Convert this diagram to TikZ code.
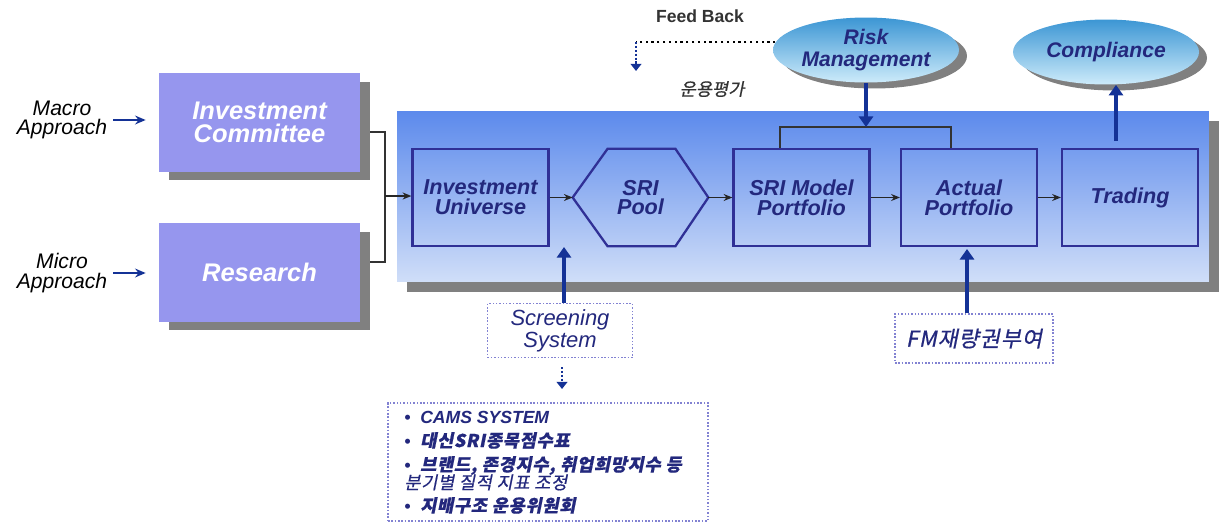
\documentclass[tikz,border=0pt]{standalone}
\usepackage{fontspec}
\setmainfont{Liberation Sans}
\newfontfamily\kr[FakeSlant=0.2,FakeBold=0.6]{Noto Sans CJK KR}
\newfontfamily\krw[FakeSlant=0.2,FakeBold=0.6,LetterSpace=4]{Noto Sans CJK KR}
\usetikzlibrary{arrows.meta,shadows,shapes.geometric,calc}
\definecolor{navy}{RGB}{35,40,125}
\definecolor{arrowblue}{RGB}{20,50,150}
\definecolor{lav}{RGB}{150,150,238}
\definecolor{panelTop}{RGB}{92,138,236}
\definecolor{panelBot}{RGB}{208,222,248}
\definecolor{shd}{RGB}{128,128,128}
\definecolor{ellTop}{RGB}{60,150,212}
\definecolor{ellBot}{RGB}{205,235,250}
\definecolor{boxline}{RGB}{48,48,150}
\definecolor{dotline}{RGB}{130,130,210}
\tikzset{
  lavbox/.style={rectangle, fill=lav, minimum width=4.02cm, minimum height=1.98cm,
    drop shadow={shadow xshift=0.2cm, shadow yshift=-0.17cm, fill=shd, opacity=1},
    font=\fontsize{14.5}{13}\selectfont\bfseries\itshape, text=white, align=center},
  flowbox/.style={rectangle, draw=boxline, line width=1.3pt, minimum width=2.72cm, minimum height=1.94cm,
    font=\fontsize{12.3}{11.3}\selectfont\bfseries\itshape, text=navy, align=center},
  ell/.style={ellipse, minimum width=3.72cm, minimum height=1.3cm, top color=ellTop, bottom color=ellBot,
    drop shadow={shadow xshift=0.16cm, shadow yshift=-0.12cm, fill=shd, opacity=1},
    font=\fontsize{12}{12.5}\selectfont\bfseries\itshape, text=navy, align=center, inner sep=0pt},
  sidetxt/.style={font=\fontsize{12}{11.3}\selectfont\itshape, text=black, align=center},
  dotbox/.style={rectangle, draw=dotline, densely dotted, line width=0.9pt, fill=white},
  thinarr/.style={draw=black!85, line width=0.8pt, -{Stealth[length=5pt,width=4pt]}},
  navyarr/.style={draw=arrowblue, line width=1.3pt, -{Stealth[length=6pt,width=5pt]}},
  thickarr/.style={draw=arrowblue, line width=2.6pt, -{Triangle[length=6pt,width=8pt]}},
  bracket/.style={draw=black!80, line width=0.8pt},
  bluedot/.style={draw=arrowblue, line width=1.2pt, densely dotted, -{Triangle[length=4pt,width=6pt]}},
  bul/.style={anchor=base west, inner sep=0pt, text=navy}
}
\begin{document}
\begin{tikzpicture}[x=0.02cm,y=-0.02cm]
\useasboundingbox (0,0) rectangle (1219,521);

% panel
\node[rectangle, minimum width=16.24cm, minimum height=3.42cm, top color=panelTop, bottom color=panelBot,
  drop shadow={shadow xshift=0.2cm, shadow yshift=-0.2cm, fill=shd, opacity=1}] (panel) at (803,196.5) {};

% left boxes
\node[lavbox] (IC) at (259.5,122.5) {Investment\\Committee};
\node[lavbox] (RS) at (259.5,272.5) {Research};
\node[sidetxt] (macro) at (62,120) {Macro\\Approach};
\node[sidetxt] (micro) at (62,273) {Micro\\Approach};
\draw[navyarr, shorten >=0.26cm] (macro.east) -- (macro.east -| IC.west);
\draw[navyarr, shorten >=0.26cm] (micro.east) -- (micro.east -| RS.west);

% flow boxes
\node[flowbox] (IU) at (480.5,197.5) {Investment\\Universe};
\node[minimum width=2.7cm, minimum height=1.94cm, inner sep=0pt,
  font=\fontsize{12.3}{11.3}\selectfont\bfseries\itshape, text=navy, align=center] (pool) at (640.5,197.5) {SRI\\Pool};
\draw[boxline, line width=1.3pt] (pool.west) -- ($(pool.north west)+(35,0)$) -- ($(pool.north east)+(-33,0)$)
  -- (pool.east) -- ($(pool.south east)+(-33,0)$) -- ($(pool.south west)+(35,0)$) -- cycle;
\node[flowbox] (SRM) at (801.5,197.5) {SRI Model\\Portfolio};
\node[flowbox] (AP) at (969,197.5) {Actual\\Portfolio};
\node[flowbox] (TR) at (1130,197.5) {Trading};

\draw[thinarr] (IU.east) -- (pool.west);
\draw[thinarr] (pool.east) -- (SRM.west);
\draw[thinarr] (SRM.east) -- (AP.west);
\draw[thinarr] (AP.east) -- (TR.west);

% left bracket
\coordinate (lbT) at (385,132);
\coordinate (lbB) at (385,262);
\coordinate (lbM) at (385,196);
\draw[bracket] ([xshift=0.2cm]IC.east |- lbT) -- (lbT) -- (lbB) -- ([xshift=0.2cm]RS.east |- lbB);
\draw[thinarr] (lbM) -- (lbM -| IU.west);

% top bracket
\coordinate (tbL) at (780,127);
\coordinate (tbR) at (951,127);
\draw[bracket] (SRM.north -| tbL) -- (tbL) -- (tbR) -- (AP.north -| tbR);

% ellipses
\node[ell] (risk) at (866,50) {Risk\\Management};
\node[ell] (comp) at (1106,52) {Compliance};
\draw[thickarr] (risk.south) -- (risk.south |- tbL);
\coordinate (trTop) at (1116,141);
\draw[thickarr] (trTop) -- (comp.south -| trTop);

% feedback
\node[font=\fontsize{10}{10}\selectfont\bfseries, text=black!80] (fb) at (700,16) {Feed Back};
\node[font=\kr\fontsize{10}{10}\selectfont, text=black!80] (eval) at (712,89) {운용평가};
\coordinate (fbL) at (636,41);
\draw[black, line width=1.3pt, dotted] (risk.175) -- (risk.175 -| fbL);
\coordinate (fbD) at (636,71);
\draw[bluedot] (risk.175 -| fbL) -- (fbD);

% screening
\node[dotbox, minimum width=2.9cm, minimum height=0.9cm, font=\fontsize{12.5}{11.3}\selectfont\itshape,
  text=navy, align=center] (scr) at (560,330.5) {Screening\\System};
\coordinate (scrTip) at (564,247);
\draw[thickarr] (scr.north -| scrTip) -- (scrTip);
\coordinate (sdTop) at (562,367);
\coordinate (sdBot) at (562,389);
\draw[bluedot] (sdTop) -- (sdBot);

% notes
\node[dotbox, minimum width=6.4cm, minimum height=2.36cm] (notes) at (548,462) {};
\node[bul, font=\fontsize{10}{10}\selectfont\bfseries\itshape] at (404,423) {\textbullet\ \ CAMS SYSTEM};
\node[bul, font=\fontsize{10}{10}\selectfont\bfseries\itshape] at (404,447) {\textbullet\ \ {\krw 대신SRI종목점수표}};
\node[bul, font=\fontsize{10}{10}\selectfont\bfseries\itshape] at (404,471) {\textbullet\ \ {\krw 브랜드, 존경지수, 취업희망지수 등}};
\node[bul, font=\krw\fontsize{10}{10}\selectfont] at (404,489) {분기별 질적 지표 조정};
\node[bul, font=\fontsize{10}{10}\selectfont\bfseries\itshape] at (404,512) {\textbullet\ \ {\krw 지배구조 운용위원회}};

% FM
\node[dotbox, minimum width=3.16cm, minimum height=0.98cm, font=\krw\fontsize{12.5}{12}\selectfont, text=navy] (fm) at (974,338.5) {FM재량권부여};
\coordinate (fmTip) at (967,249);
\draw[thickarr] (fm.north -| fmTip) -- (fmTip);
\end{tikzpicture}
\end{document}
